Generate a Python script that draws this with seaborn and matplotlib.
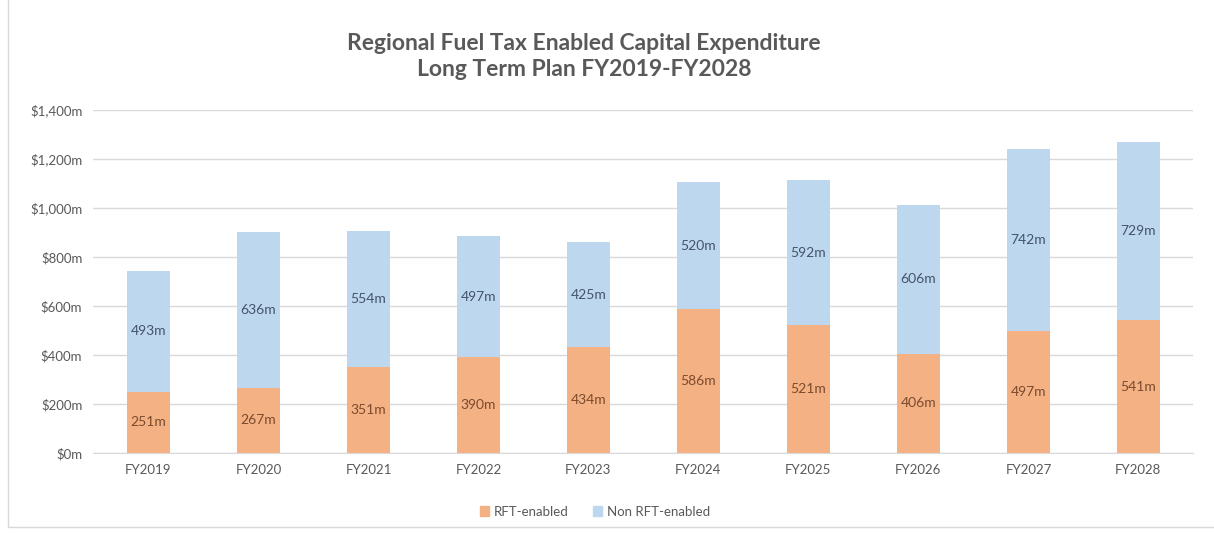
import pandas as pd
import matplotlib.pyplot as plt
import matplotlib.patches as mpatches
import seaborn as sns

years = ['FY2019', 'FY2020', 'FY2021', 'FY2022', 'FY2023',
         'FY2024', 'FY2025', 'FY2026', 'FY2027', 'FY2028']
rft_enabled = [251, 267, 351, 390, 434, 586, 521, 406, 497, 541]
non_rft_enabled = [493, 636, 554, 497, 425, 520, 592, 606, 742, 729]

df = pd.DataFrame({'year': years, 'rft': rft_enabled, 'non_rft': non_rft_enabled})
df['total'] = df['rft'] + df['non_rft']

sns.set_style('white')
plt.rcParams['font.family'] = ['Lato', 'DejaVu Sans']

orange = '#F4B183'
blue = '#BDD7EE'

fig = plt.figure(figsize=(12.14, 5.33), dpi=100)
ax = fig.add_axes([0.077, 0.150, 0.906, 0.644])

# stacked: draw totals first, then the RFT part on top of it
sns.barplot(data=df, x='year', y='total', color=blue, width=0.39,
            saturation=1, linewidth=0, ax=ax, zorder=2)
sns.barplot(data=df, x='year', y='rft', color=orange, width=0.39,
            saturation=1, linewidth=0, ax=ax, zorder=3)

for i, row in df.iterrows():
    ax.text(i, row['rft'] / 2, f"{row['rft']}m", ha='center', va='center',
            fontsize=10, color='#7A4B2E', zorder=4)
    ax.text(i, row['rft'] + row['non_rft'] / 2, f"{row['non_rft']}m",
            ha='center', va='center', fontsize=10, color='#44546A', zorder=4)

ax.set_ylim(0, 1400)
ax.set_xlim(-0.5, 9.5)
ax.set_yticks(range(0, 1401, 200))
ax.set_yticklabels([f"${v:,}m" for v in range(0, 1401, 200)])
ax.yaxis.grid(True, color='#D9D9D9', linewidth=1, zorder=0)
ax.set_axisbelow(True)
for s in ['top', 'right', 'left']:
    ax.spines[s].set_visible(False)
ax.spines['bottom'].set_color('#D9D9D9')
ax.tick_params(axis='both', length=0, labelsize=9.5, colors='#595959', pad=8)
ax.set_xlabel('')
ax.set_ylabel('')

fig.text(0.481, 0.894, 'Regional Fuel Tax Enabled Capital Expenditure\nLong Term Plan FY2019-FY2028',
         ha='center', va='center', fontsize=16.5, color='#595959',
         fontweight='bold', linespacing=1.35)

handles = [mpatches.Patch(color=orange, label='RFT-enabled'),
           mpatches.Patch(color=blue, label='Non RFT-enabled')]
fig.legend(handles=handles, loc='center', bbox_to_anchor=(0.49, 0.04), ncol=2,
           frameon=False, fontsize=9.5, handlelength=0.7, handleheight=0.7,
           columnspacing=1.8, handletextpad=0.4, labelcolor='#595959')

# light frame around the chart area
fig.patches.append(mpatches.Rectangle((0.007, 0.012), 1.1, 1.1, transform=fig.transFigure,
                                      fill=False, edgecolor='#D9D9D9', linewidth=1))

fig.savefig('out.png', dpi=100)
